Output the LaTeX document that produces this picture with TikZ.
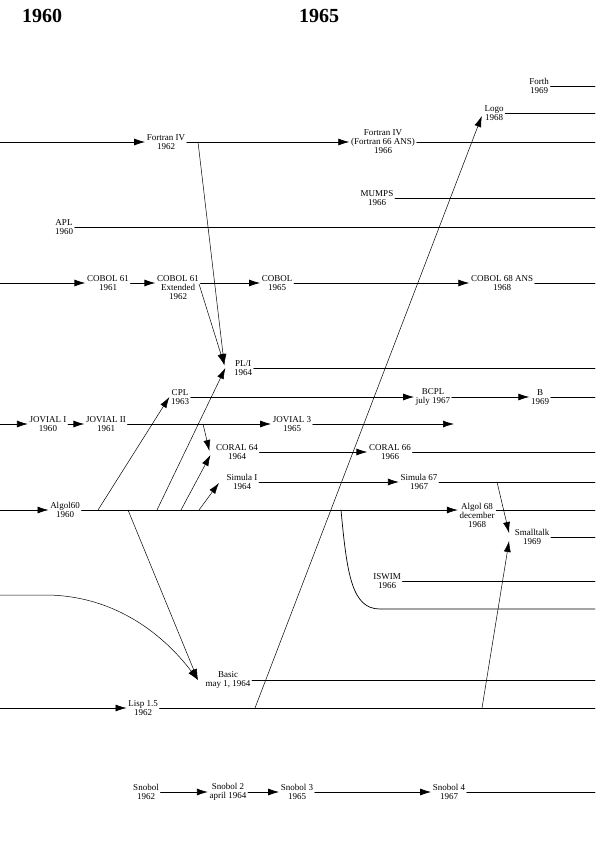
\documentclass[tikz,border=0pt]{standalone}
\usepackage{fontspec}
\setmainfont{Liberation Serif}
\usetikzlibrary{arrows.meta,calc}
\tikzset{
  lang/.style={align=center,inner sep=1.5pt,font=\fontsize{9}{9}\selectfont},
  yearlabel/.style={inner sep=0pt,font=\fontsize{20}{22}\selectfont\bfseries},
  tl/.style={line width=.7pt},
  gen/.style={line width=.5pt},
  >={Latex[length=11pt,width=7pt]},
}
\begin{document}
\begin{tikzpicture}[x=1pt,y=-1pt,line cap=round,line join=round]
    \useasboundingbox (0,0) rectangle (595,842);
    \coordinate (lmargin) at (0,0);
    \coordinate (rmargin) at (595,0);

    \node[yearlabel] (y1960) at (42,16) {1960};
    \node[yearlabel] (y1965) at (319,16) {1965};

    \node[lang] (forth) at (539,86) {Forth\\1969};
    \node[lang] (logo) at (494,113) {Logo\\1968};
    \node[lang] (fortranIV) at (166,142) {Fortran IV\\1962};
    \node[lang] (fortran66) at (383,142) {Fortran IV\\(Fortran 66 ANS)\\1966};
    \node[lang] (mumps) at (377,198) {MUMPS\\1966};
    \node[lang] (apl) at (64,227) {APL\\1960};
    \node[lang] (cobol61) at (108,283) {COBOL 61\\1961};
    \node[lang] (cobolext) at (178,288) {COBOL 61\\Extended\\1962};
    \node[lang] (cobol65) at (277,283) {COBOL\\1965};
    \node[lang] (cobol68) at (502,283) {COBOL 68 ANS\\1968};
    \node[lang] (pli) at (243,368) {PL/I\\1964};
    \node[lang] (cpl) at (180,397) {CPL\\1963};
    \node[lang] (bcpl) at (433,397) {BCPL\\july 1967};
    \node[lang] (b) at (540,397) {B\\1969};
    \node[lang] (jovialI) at (48,424) {JOVIAL I\\1960};
    \node[lang] (jovialII) at (106,424) {JOVIAL II\\1961};
    \node[lang] (jovial3) at (292,424) {JOVIAL 3\\1965};
    \node[lang] (coral64) at (237,452) {CORAL 64\\1964};
    \node[lang] (coral66) at (390,452) {CORAL 66\\1966};
    \node[lang] (simulaI) at (242,482) {Simula I\\1964};
    \node[lang] (simula67) at (419,482) {Simula 67\\1967};
    \node[lang] (algol60) at (65,510) {Algol60\\1960};
    \node[lang] (algol68) at (477,515) {Algol 68\\december\\1968};
    \node[lang] (smalltalk) at (532,537) {Smalltalk\\1969};
    \node[lang] (iswim) at (387,581) {ISWIM\\1966};
    \node[lang] (basic) at (228,680) {Basic\\may 1, 1964};
    \node[lang] (lisp) at (143,708) {Lisp 1.5\\1962};
    \node[lang] (snobol) at (146,792) {Snobol\\1962};
    \node[lang] (snobolII) at (228,792) {Snobol 2\\april 1964};
    \node[lang] (snobolIII) at (297,792) {Snobol 3\\1965};
    \node[lang] (snobolIV) at (449,792) {Snobol 4\\1967};

    \coordinate (jovend) at (454,424);
    \coordinate (curvein) at (0,595);
    \coordinate (loopend) at (595,609);
    \coordinate (f4pl) at (198,142);
    \coordinate (cxpl) at (199,284);
    \coordinate (a60cpl) at (98,510);
    \coordinate (a60basic) at (128,510);
    \coordinate (a60pl) at (157,510);
    \coordinate (a60coral) at (181,510);
    \coordinate (a60sim) at (199,510);
    \coordinate (a60loop) at (341,510);
    \coordinate (jovcoral) at (203,424);
    \coordinate (sim67st) at (497,482);
    \coordinate (lisplogo) at (255,708);
    \coordinate (lispst) at (482,708);

    % time lines
    \draw[tl] (forth.east) -- (rmargin |- forth.east);
    \draw[tl] (logo.east) -- (rmargin |- logo.east);
    \draw[tl,->] (lmargin |- fortranIV.west) -- (fortranIV.west);
    \draw[tl,->] (fortranIV.east) -- (fortran66.west);
    \draw[tl] (fortran66.east) -- (rmargin |- fortran66.east);
    \draw[tl] (mumps.east) -- (rmargin |- mumps.east);
    \draw[tl] (apl.east) -- (rmargin |- apl.east);
    \draw[tl,->] (lmargin |- cobol61.west) -- (cobol61.west);
    \draw[tl,->] (cobol61.east) -- (cobol61.east -| cobolext.west);
    \draw[tl,->] (cobolext.east |- cobol65.west) -- (cobol65.west);
    \draw[tl,->] (cobol65.east) -- (cobol68.west);
    \draw[tl] (cobol68.east) -- (rmargin |- cobol68.east);
    \draw[tl] (pli.east) -- (rmargin |- pli.east);
    \draw[tl,->] (cpl.east) -- (bcpl.west);
    \draw[tl,->] (bcpl.east) -- (b.west);
    \draw[tl] (b.east) -- (rmargin |- b.east);
    \draw[tl,->] (lmargin |- jovialI.west) -- (jovialI.west);
    \draw[tl,->] (jovialI.east) -- (jovialII.west);
    \draw[tl,->] (jovialII.east) -- (jovial3.west);
    \draw[tl,->] (jovial3.east) -- (jovend);
    \draw[tl,->] (coral64.east) -- (coral66.west);
    \draw[tl] (coral66.east) -- (rmargin |- coral66.east);
    \draw[tl,->] (simulaI.east) -- (simula67.west);
    \draw[tl] (simula67.east) -- (rmargin |- simula67.east);
    \draw[tl,->] (lmargin |- algol60.west) -- (algol60.west);
    \draw[tl,->] (algol60.east) -- (algol60.east -| algol68.west);
    \draw[tl] (algol68.east |- algol60.east) -- (rmargin |- algol60.east);
    \draw[tl] (smalltalk.east) -- (rmargin |- smalltalk.east);
    \draw[tl] (iswim.east) -- (rmargin |- iswim.east);
    \draw[tl] (basic.east) -- (rmargin |- basic.east);
    \draw[tl,->] (lmargin |- lisp.west) -- (lisp.west);
    \draw[tl] (lisp.east) -- (rmargin |- lisp.east);
    \draw[tl,->] (snobol.east) -- (snobolII.west);
    \draw[tl,->] (snobolII.east) -- (snobolIII.west);
    \draw[tl,->] (snobolIII.east) -- (snobolIV.west);
    \draw[tl] (snobolIV.east) -- (rmargin |- snobolIV.east);

    % influences
    \draw[gen,->] (f4pl) -- ($(pli.west)+(-8,-3)$);
    \draw[gen,->] (cxpl) -- ($(pli.west)+(-8,-3)$);
    \draw[gen,->] (a60pl) -- ($(pli.west)+(-7,0)$);
    \draw[gen,->] (a60cpl) -- (cpl.west);
    \draw[gen,->] (jovcoral) -- ($(coral64.west)+(-5,-1)$);
    \draw[gen,->] (a60coral) -- ($(coral64.west)+(-4,3)$);
    \draw[gen,->] (a60sim) -- ($(simulaI.west)+(-6,1)$);
    \draw[gen,->] (a60basic) -- ($(basic.west)+(-6,0)$);
    \draw[gen,->] (curvein) -- ++(45,0) .. controls (110,595) and (160,630) .. ($(basic.west)+(-6,0)$);
    \draw[tl] (a60loop) .. controls (347,575) and (352,609) .. (380,609) -- (loopend);
    \draw[gen,->] (lisplogo) -- ($(logo.west)+(-1,3)$);
    \draw[gen,->] (sim67st) -- ($(smalltalk.west)+(-4,-4)$);
    \draw[gen,->] (lispst) -- ($(smalltalk.west)+(-4,4)$);
  \end{tikzpicture}
\end{document}
